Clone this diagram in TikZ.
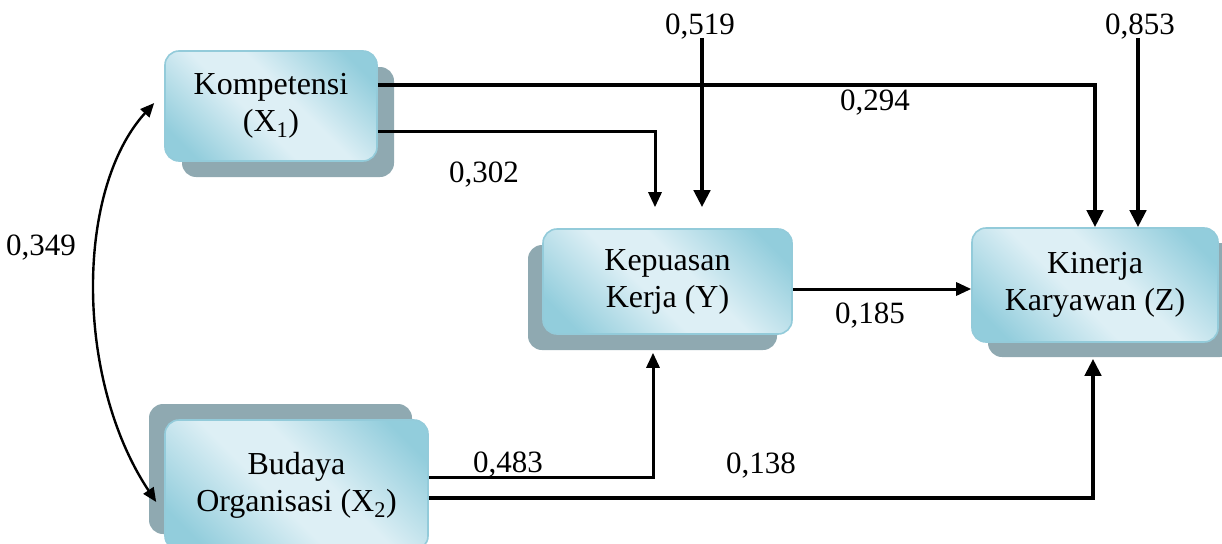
\documentclass[tikz,border=0pt]{standalone}
\usepackage{fontspec}
\setmainfont{Liberation Serif}
\usetikzlibrary{arrows.meta,shadows,calc}

\definecolor{boxlight}{HTML}{DDEFF5}
\definecolor{boxdark}{HTML}{92CDDC}
\definecolor{boxedge}{HTML}{93CBDA}
\definecolor{shadowc}{HTML}{8FA9B1}

% diagonal fill: darker at two opposite corners, pale across the middle
\pgfdeclarehorizontalshading{boxshade}{100bp}{%
  color(0bp)=(boxdark); color(22bp)=(boxdark); color(44bp)=(boxlight);
  color(56bp)=(boxlight); color(78bp)=(boxdark); color(100bp)=(boxdark)}

\tikzset{
  boxnode/.style={rounded corners=14pt, draw=boxedge, line width=1.6pt,
    shading=boxshade, shading angle=45, align=center, inner sep=0pt,
    font=\fontsize{32}{37}\selectfont},
  boxshadow/.style 2 args={general shadow={shadow xshift=#1, shadow yshift=#2,
    fill=shadowc, draw=none}},
  lbl/.style={anchor=base, inner sep=0pt, font=\fontsize{31}{37}\selectfont},
  thickline/.style={line width=4.6pt, -{Triangle[width=16pt,length=17pt]}},
  midline/.style={line width=3pt, -{Triangle[width=13pt,length=15pt]}},
  curveline/.style={line width=2.4pt,
    {Triangle[width=12pt,length=14pt]}-{Triangle[width=12pt,length=14pt]}},
}

\begin{document}
\begin{tikzpicture}[x=1pt,y=-1pt]
\useasboundingbox (0,0) rectangle (1222,543);
\clip (0,0) rectangle (1222,543);

% variables
\node[boxnode, minimum width=212pt, minimum height=110pt,
      boxshadow={17pt}{-16pt}] (k) at (271,106) {Kompetensi\\(X\textsubscript{1})};
\node[boxnode, minimum width=263pt, minimum height=130pt,
      boxshadow={-16pt}{16pt}] (b) at (296.5,485) {Budaya\\Organisasi (X\textsubscript{2})};
\node[boxnode, minimum width=249pt, minimum height=105pt,
      boxshadow={-15pt}{-16pt}] (y) at (667.5,281.5) {Kepuasan\\Kerja (Y)};
\node[boxnode, minimum width=246pt, minimum height=114pt,
      boxshadow={16pt}{-15pt}] (z) at (1095,285) {Kinerja\\Karyawan (Z)};

% residual terms
\node[lbl] (e1) at (700,35) {0,519};
\node[lbl] (e2) at (1140,35) {0,853};
\coordinate (e1top) at (702,38);
\coordinate (e2top) at (1138,38);
\coordinate (e1end) at ([xshift=34.5pt,yshift=21pt]y.north);

% paths
\draw[thickline] ([yshift=21pt]k.east) -| (z.north);
\draw[midline] ([yshift=-25pt]k.east) -| ([xshift=-12.5pt,yshift=21pt]y.north);
\draw[thickline] (e1top) -- (e1end);
\draw[thickline] (e2top) -- (e2top |- z.north);
\draw[midline] ([yshift=-7.5pt]y.east) -- ([yshift=-7.5pt]y.east -| z.west);
\draw[midline] ([yshift=8pt]b.east) -| ([xshift=-14.5pt,yshift=-18pt]y.south);
\draw[thickline] ([yshift=-13pt]b.east) -| ([xshift=-2pt,yshift=-16pt]z.south);

% correlation between the exogenous variables
\draw[curveline] ([xshift=-10pt,yshift=3pt]k.west)
  .. controls (75,190) and (75,380) .. ([xshift=-8pt,yshift=-17pt]b.west);

% coefficients
\node[lbl] (c1) at (875,110) {0,294};
\node[lbl] (c2) at (484,182) {0,302};
\node[lbl] (c3) at (41,255) {0,349};
\node[lbl] (c4) at (870,323) {0,185};
\node[lbl] (c5) at (508,472) {0,483};
\node[lbl] (c6) at (761,473) {0,138};
\end{tikzpicture}
\end{document}
